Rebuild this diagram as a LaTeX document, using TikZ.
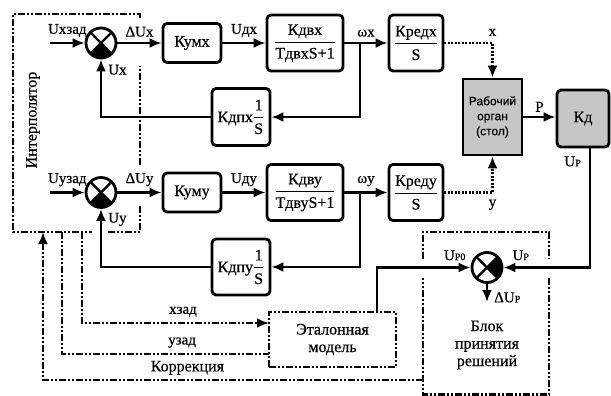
\documentclass[tikz,border=0pt]{standalone}
\usepackage{fontspec}
\usepackage{amsmath}
\setmainfont{Liberation Serif}[FakeBold=0.5]
\newfontfamily\serfont{Liberation Serif}[FakeBold=0.5]
\newfontfamily\rabfont{Liberation Sans}[FakeBold=0.4]
\usetikzlibrary{arrows.meta}

\newcommand{\Usm}[1]{U{\fontsize{10}{10}\selectfont #1}}

\begin{document}
\begin{tikzpicture}[x=1pt, y=-1pt, >={Latex[length=12pt,width=10pt]},
    font=\serfont\fontsize{16}{17.5}\selectfont,
    blk/.style={rectangle, draw, line width=2.8pt, rounded corners=4pt, inner sep=0pt, align=center},
    sig/.style={line width=2.5pt},
    dotsig/.style={line width=2.5pt, dash pattern=on 2pt off 1.5pt},
    dashdot/.style={line width=2.5pt, dash pattern=on 7pt off 2pt on 2pt off 2pt on 2pt off 2pt},
    lbl/.style={font=\serfont\fontsize{15}{17}\selectfont, inner sep=0pt},
    sumbot/.style={circle, draw, line width=2.8pt, minimum size=30pt, inner sep=0pt,
        path picture={
            \fill (path picture bounding box.center) -- (path picture bounding box.south west)
                -- (path picture bounding box.south east) -- cycle;
            \draw[line width=2.2pt] (path picture bounding box.south west) -- (path picture bounding box.north east)
                (path picture bounding box.north west) -- (path picture bounding box.south east);}},
    sumright/.style={circle, draw, line width=2.8pt, minimum size=30pt, inner sep=0pt,
        path picture={
            \fill (path picture bounding box.center) -- (path picture bounding box.north east)
                -- (path picture bounding box.south east) -- cycle;
            \draw[line width=2.2pt] (path picture bounding box.south west) -- (path picture bounding box.north east)
                (path picture bounding box.north west) -- (path picture bounding box.south east);}}]
    \useasboundingbox (0,0) rectangle (611,396);

    % Nodes
    \node (sumx) [sumbot] at (101,43) {};
    \node (kumx) [blk, minimum width=58pt, minimum height=39pt] at (192,43) {Кумх};
    \node (kdvx) [blk, minimum width=76pt, minimum height=56pt] at (305,43) {$\dfrac{\mbox{Кдвх}}{\mbox{ТдвхS+1}}$};
    \node (kredx) [blk, minimum width=54pt, minimum height=56pt] at (416,43) {$\dfrac{\mbox{Кредх}}{\mbox{S}}$};
    \node (kdpx) [blk, minimum width=58pt, minimum height=57pt] at (241,117) {Кдпх$\dfrac{\mbox{1}}{\mbox{S}}$};

    \node (sumy) [sumbot] at (101,192.5) {};
    \node (kumy) [blk, minimum width=58pt, minimum height=39pt] at (192,192.5) {Куму};
    \node (kdvy) [blk, minimum width=76pt, minimum height=56pt] at (305,192.5) {$\dfrac{\mbox{Кдву}}{\mbox{ТдвуS+1}}$};
    \node (kredy) [blk, minimum width=54pt, minimum height=56pt] at (416,192.5) {$\dfrac{\mbox{Креду}}{\mbox{S}}$};
    \node (kdpy) [blk, minimum width=58pt, minimum height=56pt] at (241,267) {Кдпу$\dfrac{\mbox{1}}{\mbox{S}}$};

    \node (rabor) [rectangle, draw, line width=2.8pt, fill=gray!45, minimum width=59pt, minimum height=76pt, align=center,
        font=\rabfont\fontsize{12}{15}\selectfont] at (492.5,117) {Рабочий\\орган\\(стол)};
    \node (kd) [blk, fill=gray!45, minimum width=52pt, minimum height=57pt] at (583,118.5) {Кд};

    \node (sump) [sumright] at (487,267.5) {};
    \node (model) [draw, dashdot, minimum width=127pt, minimum height=55pt, align=center] at (332.5,339.5) {Эталонная\\модель};
    \node (blokname) [align=center] at (487,345) {Блок\\принятия\\решений};
    \node (interpname) [rotate=90] at (33,120) {Интерполятор};

    % Frames
    \draw[dashdot] (140,18) -- (140,14) -- (13,14) -- (13,232) -- (92,232)
        (108,232) -- (140,232) -- (140,206) (140,165) -- (140,66);
    \draw[dashdot] (423,259) -- (423,232) -- (549,232) -- (549,259)
        (549,278) -- (549,394.5) -- (423,394.5) -- (423,278);

    % Coordinates
    \coordinate (uxin) at (50,43);
    \coordinate (uyin) at (50,192.5);
    \coordinate (brx) at (360,43);
    \coordinate (bry) at (360,192.5);
    \coordinate (kdout) at (590,147);
    \coordinate (mout) at (377,312);
    \coordinate (dup) at (487,302);
    \coordinate (xz) at (82,232);
    \coordinate (xzin) at (269,323);
    \coordinate (yz) at (62,232);
    \coordinate (yzin) at (269,354);
    \coordinate (korout) at (423,380);
    \coordinate (korin) at (43,232);

    % Edges, channel x
    \draw[sig, ->] (uxin) -- node[lbl, above=5pt] {Uxзад} (sumx);
    \draw[sig, ->] (sumx) -- node[lbl, above=5pt] {ΔUx} (kumx);
    \draw[sig, ->] (kumx) -- node[lbl, above=5pt] {Uдх} (kdvx);
    \draw[sig, ->] (kdvx) -- node[lbl, above=5pt] {ωx} (kredx);
    \draw[sig, ->] (brx) |- (kdpx);
    \draw[sig, ->] (kdpx) -| node[lbl, pos=0.91, right=6pt] {Ux} (sumx);
    \draw[dotsig, ->] (kredx) -| node[lbl, pos=0.5, above=6pt] {x} (rabor);

    % Edges, channel y
    \draw[sig, ->] (uyin) -- node[lbl, above=5pt] {Uyзад} (sumy);
    \draw[sig, ->] (sumy) -- node[lbl, above=5pt] {ΔUy} (kumy);
    \draw[sig, ->] (kumy) -- node[lbl, above=5pt] {Uдy} (kdvy);
    \draw[sig, ->] (kdvy) -- node[lbl, above=5pt] {ωy} (kredy);
    \draw[sig, ->] (bry) |- (kdpy);
    \draw[sig, ->] (kdpy) -| node[lbl, pos=0.91, right=6pt] {Uy} (sumy);
    \draw[dotsig, ->] (kredy) -| node[lbl, pos=0.5, below=6pt] {y} (rabor);

    % Edges, table and decision block
    \draw[sig, ->] (rabor) -- node[lbl, above=4pt] {P} (rabor -| kd.west);
    \draw[sig, ->] (kdout) |- node[lbl, pos=0.06, left=8pt] {\Usm{Р}} node[lbl, pos=0.9, above=6pt] {\Usm{Р}} (sump);
    \draw[sig, ->] (mout) |- node[lbl, pos=0.915, above=6pt] {\Usm{Р0}} (sump);
    \draw[sig, ->] (sump) -- node[lbl, pos=0.75, right=6pt] {Δ\Usm{Р}} (dup);

    % Edges, interpolator links
    \draw[dashdot, ->] (xz) |- node[lbl, pos=0.77, above=5pt] {xзад} (xzin);
    \draw[dashdot] (yz) |- node[lbl, pos=0.79, above=5pt] {yзад} (yzin);
    \draw[dashdot, ->] (korout) -| node[lbl, pos=0.31, above=4pt, font=\serfont\fontsize{16}{17}\selectfont] {Коррекция} (korin);
\end{tikzpicture}
\end{document}
